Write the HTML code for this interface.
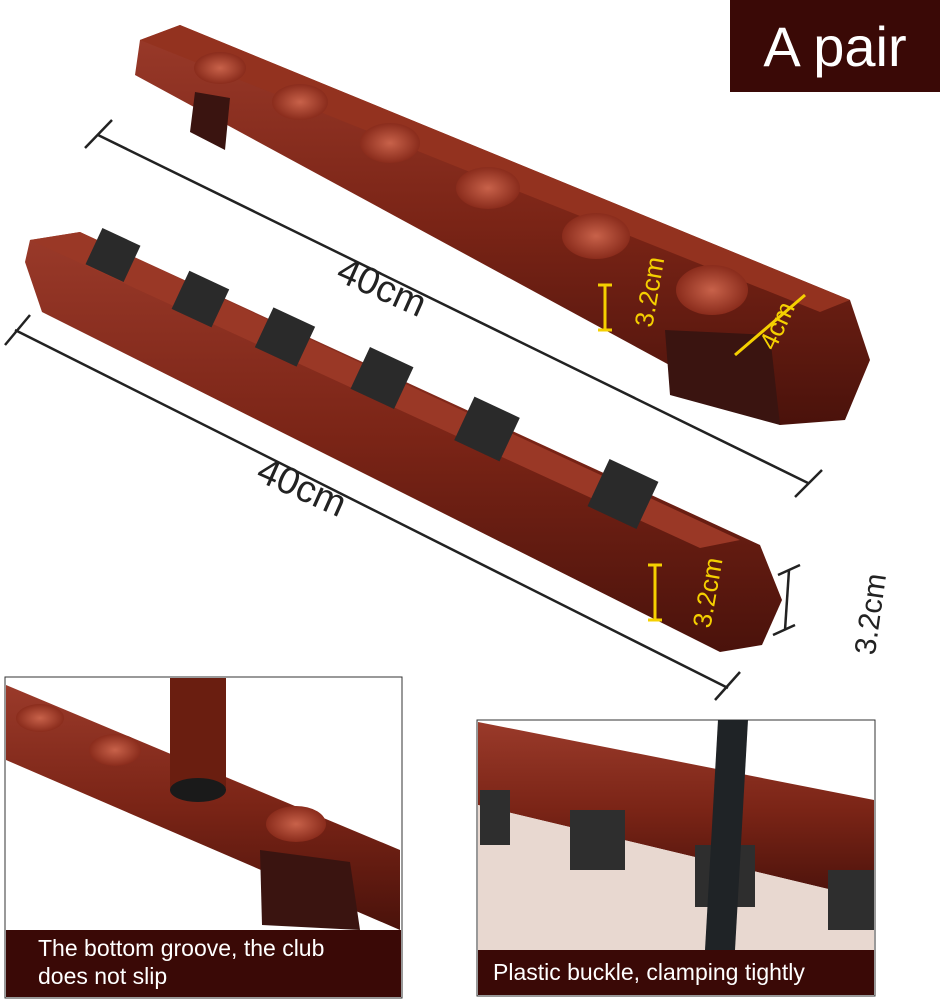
<!DOCTYPE html>
<html><head><meta charset="utf-8">
<style>
body{margin:0;background:#fff;width:940px;height:1000px;overflow:hidden;font-family:"Liberation Sans",sans-serif}
</style></head><body>
<svg width="940" height="1000" viewBox="0 0 940 1000" xmlns="http://www.w3.org/2000/svg">
<defs>
<linearGradient id="w" x1="0" y1="0" x2="0" y2="1">
<stop offset="0" stop-color="#9a3a2a"/><stop offset="0.5" stop-color="#7a2416"/><stop offset="1" stop-color="#4a120b"/>
</linearGradient>
<radialGradient id="cup"><stop offset="0" stop-color="#c8624a"/><stop offset="1" stop-color="#8a2c1c"/></radialGradient>
</defs>
<rect x="730" y="0" width="210" height="92" fill="#3a0906"/>
<text x="835" y="66" font-size="56" fill="#fff" text-anchor="middle">A pair</text>

<polygon points="140,40 180,25 850,300 870,360 845,420 780,425 135,75" fill="url(#w)"/>
<polygon points="140,40 180,25 850,300 820,312" fill="#93321f"/>
<polygon points="665,330 770,335 780,425 670,395" fill="#3a1410"/>
<polygon points="195,92 230,98 225,150 190,132" fill="#3a1410"/>
<g fill="url(#cup)">
<ellipse cx="220" cy="68" rx="26" ry="16"/><ellipse cx="300" cy="102" rx="28" ry="18"/>
<ellipse cx="390" cy="143" rx="30" ry="20"/><ellipse cx="488" cy="188" rx="32" ry="21"/>
<ellipse cx="596" cy="236" rx="34" ry="23"/><ellipse cx="712" cy="290" rx="36" ry="25"/>
</g>
<polygon points="30,240 80,232 760,545 782,600 762,645 720,652 42,312 25,262" fill="url(#w)"/>
<polygon points="30,240 80,232 740,540 700,548" fill="#9a3826"/>
<g fill="#2a2a2a">
<rect x="92" y="235" width="42" height="40" transform="rotate(25 113 255)"/>
<rect x="178" y="278" width="44" height="42" transform="rotate(25 200 300)"/>
<rect x="262" y="315" width="46" height="44" transform="rotate(25 285 337)"/>
<rect x="358" y="355" width="48" height="46" transform="rotate(25 382 378)"/>
<rect x="462" y="405" width="50" height="48" transform="rotate(25 487 429)"/>
<rect x="596" y="468" width="54" height="52" transform="rotate(25 623 494)"/>
</g>
<g stroke="#222" stroke-width="2.5">
<line x1="98" y1="135" x2="808" y2="483"/><line x1="85" y1="148" x2="112" y2="120"/><line x1="795" y1="497" x2="822" y2="470"/>
<line x1="15" y1="330" x2="728" y2="688"/><line x1="5" y1="345" x2="30" y2="315"/><line x1="715" y1="700" x2="740" y2="672"/>
<line x1="778" y1="575" x2="800" y2="565"/><line x1="773" y1="635" x2="795" y2="625"/><line x1="789" y1="570" x2="785" y2="630"/>
</g>
<text x="330" y="300" font-size="38" fill="#222" transform="rotate(24 380 300)">40cm</text>
<text x="250" y="500" font-size="38" fill="#222" transform="rotate(24 300 500)">40cm</text>
<text x="800" y="660" font-size="30" fill="#222" transform="rotate(-82 835 615)">3.2cm</text>
<g stroke="#f5d000" stroke-width="3">
<line x1="605" y1="285" x2="605" y2="330"/><line x1="598" y1="285" x2="612" y2="285"/><line x1="598" y1="330" x2="612" y2="330"/>
<line x1="735" y1="355" x2="805" y2="295"/>
<line x1="655" y1="565" x2="655" y2="620"/><line x1="648" y1="565" x2="662" y2="565"/><line x1="648" y1="620" x2="662" y2="620"/>
</g>
<g fill="#f5d000" font-size="26">
<text x="620" y="330" transform="rotate(-80 635 310)">3.2cm</text>
<text x="745" y="345" transform="rotate(-65 765 325)">4cm</text>
<text x="665" y="625" transform="rotate(-80 690 600)">3.2cm</text>
</g>

<rect x="5" y="677" width="397" height="321" fill="#fff" stroke="#333"/>
<polygon points="6,685 400,850 400,930 6,760" fill="url(#w)"/>
<ellipse cx="40" cy="718" rx="24" ry="14" fill="url(#cup)"/>
<ellipse cx="115" cy="750" rx="26" ry="16" fill="url(#cup)"/>
<ellipse cx="296" cy="824" rx="30" ry="18" fill="url(#cup)"/>
<rect x="170" y="678" width="56" height="110" fill="#6a1e10"/>
<ellipse cx="198" cy="790" rx="28" ry="12" fill="#1a1a1a"/>
<polygon points="260,850 350,862 360,930 262,925" fill="#3a1410"/>
<rect x="6" y="930" width="395" height="67" fill="#3a0906"/>
<text x="38" y="956" font-size="23" fill="#fff">The bottom groove, the club</text>
<text x="38" y="984" font-size="23" fill="#fff">does not slip</text>

<rect x="477" y="720" width="398" height="276" fill="#fff" stroke="#333"/>
<polygon points="478,722 874,800 874,900 478,805" fill="url(#w)"/>
<polygon points="478,805 874,900 874,950 478,950" fill="#e8d8d0"/>
<g fill="#2e2e2e">
<rect x="480" y="790" width="30" height="55"/><rect x="570" y="810" width="55" height="60"/>
<rect x="695" y="845" width="60" height="62"/><rect x="828" y="870" width="46" height="60"/>
</g>
<polygon points="718,720 748,720 735,950 705,950" fill="#1f2326"/>
<rect x="478" y="950" width="396" height="45" fill="#3a0906"/>
<text x="493" y="980" font-size="23" fill="#fff">Plastic buckle, clamping tightly</text>
</svg>
</body></html>
